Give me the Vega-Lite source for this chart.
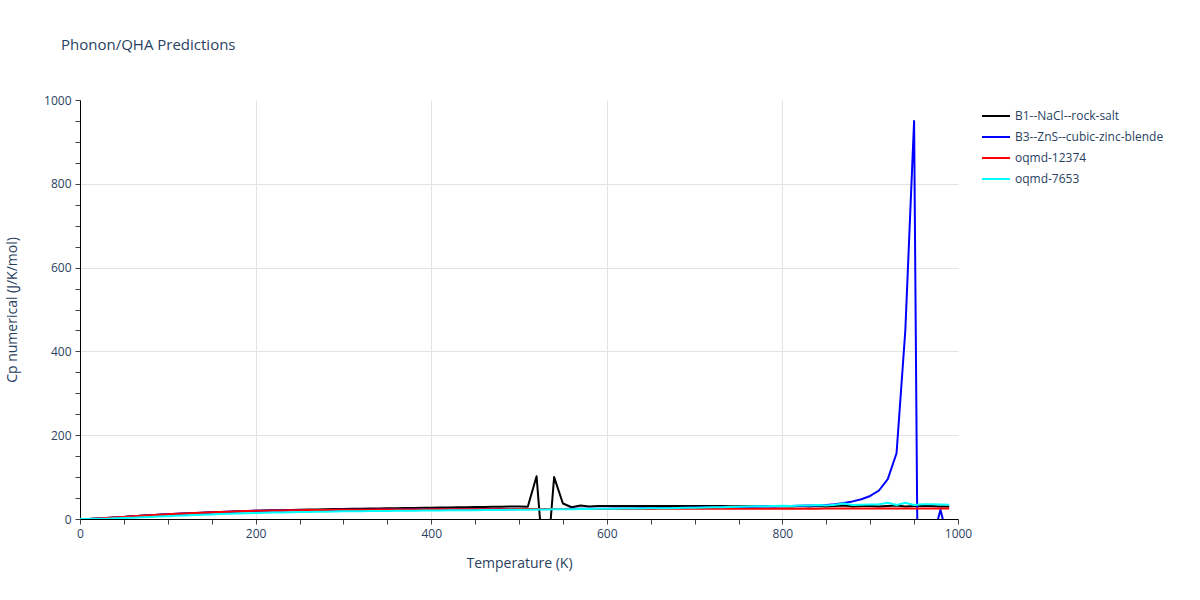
{
  "$schema": "https://vega.github.io/schema/vega-lite/v6.json",
  "width": 878,
  "height": 419,
  "autosize": "none",
  "padding": {"left": 80, "top": 100, "right": 242, "bottom": 81},
  "background": "white",
  "config": {"font": "Open Sans", "view": {"stroke": null}},
  "title": {"text": "Phonon/QHA Predictions", "anchor": "start", "frame": "group", "dx": -19, "offset": 41, "fontSize": 15, "fontWeight": "normal", "color": "#2a3f5f"},
  "data": {"values": [
    {"T":0,"K":0,"B":0,"R":0,"C":0},
    {"T":10,"K":0.2,"B":0.2,"R":0.2,"C":0.05},
    {"T":20,"K":1.0,"B":1.0,"R":1.0,"C":0.3},
    {"T":30,"K":2.2,"B":2.2,"R":2.2,"C":0.8},
    {"T":40,"K":3.5,"B":3.5,"R":3.5,"C":1.5},
    {"T":50,"K":4.9,"B":4.9,"R":4.9,"C":2.3},
    {"T":60,"K":6.3,"B":6.3,"R":6.3,"C":3.2},
    {"T":70,"K":7.6,"B":7.6,"R":7.6,"C":4.1},
    {"T":80,"K":8.9,"B":8.9,"R":8.9,"C":5.0},
    {"T":90,"K":10.0,"B":10.1,"R":10.1,"C":5.9},
    {"T":100,"K":11.1,"B":11.2,"R":11.2,"C":6.8},
    {"T":110,"K":12.1,"B":12.3,"R":12.3,"C":7.7},
    {"T":120,"K":13.1,"B":13.3,"R":13.3,"C":8.6},
    {"T":130,"K":14.0,"B":14.3,"R":14.3,"C":9.4},
    {"T":140,"K":14.9,"B":15.2,"R":15.2,"C":10.2},
    {"T":150,"K":15.7,"B":16.0,"R":16.0,"C":11.0},
    {"T":160,"K":16.5,"B":16.8,"R":16.8,"C":11.7},
    {"T":170,"K":17.3,"B":17.5,"R":17.5,"C":12.4},
    {"T":180,"K":18.0,"B":18.2,"R":18.2,"C":13.1},
    {"T":190,"K":18.7,"B":18.8,"R":18.8,"C":13.7},
    {"T":200,"K":19.4,"B":19.4,"R":19.4,"C":14.3},
    {"T":210,"K":20.0,"B":19.8,"R":19.8,"C":14.8},
    {"T":220,"K":20.6,"B":20.2,"R":20.2,"C":15.3},
    {"T":230,"K":21.1,"B":20.5,"R":20.5,"C":15.8},
    {"T":240,"K":21.6,"B":20.8,"R":20.8,"C":16.2},
    {"T":250,"K":22.1,"B":21.0,"R":21.0,"C":16.6},
    {"T":260,"K":22.5,"B":21.2,"R":21.2,"C":17.0},
    {"T":270,"K":22.9,"B":21.4,"R":21.4,"C":17.3},
    {"T":280,"K":23.3,"B":21.6,"R":21.6,"C":17.6},
    {"T":290,"K":23.7,"B":21.8,"R":21.8,"C":17.9},
    {"T":300,"K":24.1,"B":22.0,"R":22.0,"C":18.2},
    {"T":310,"K":24.4,"B":22.1,"R":22.1,"C":18.4},
    {"T":320,"K":24.7,"B":22.2,"R":22.2,"C":18.6},
    {"T":330,"K":25.0,"B":22.3,"R":22.3,"C":18.8},
    {"T":340,"K":25.3,"B":22.4,"R":22.4,"C":19.0},
    {"T":350,"K":25.6,"B":22.5,"R":22.5,"C":19.2},
    {"T":360,"K":25.9,"B":22.6,"R":22.6,"C":19.4},
    {"T":370,"K":26.2,"B":22.7,"R":22.7,"C":19.6},
    {"T":380,"K":26.5,"B":22.8,"R":22.8,"C":19.8},
    {"T":390,"K":26.8,"B":22.9,"R":22.9,"C":20.0},
    {"T":400,"K":27.1,"B":23.0,"R":23.0,"C":20.2},
    {"T":410,"K":27.4,"B":23.06,"R":23.06,"C":20.4},
    {"T":420,"K":27.7,"B":23.1,"R":23.1,"C":20.6},
    {"T":430,"K":28.0,"B":23.2,"R":23.2,"C":20.7},
    {"T":440,"K":28.3,"B":23.25,"R":23.25,"C":20.9},
    {"T":450,"K":28.6,"B":23.3,"R":23.3,"C":21.1},
    {"T":460,"K":28.9,"B":23.35,"R":23.35,"C":21.3},
    {"T":470,"K":29.2,"B":23.4,"R":23.4,"C":21.5},
    {"T":480,"K":29.5,"B":23.5,"R":23.5,"C":21.6},
    {"T":490,"K":29.8,"B":23.55,"R":23.55,"C":21.8},
    {"T":500,"K":30.1,"B":23.6,"R":23.6,"C":22.0},
    {"T":510,"K":29.0,"B":23.7,"R":23.65,"C":22.2},
    {"T":520,"K":102,"B":23.8,"R":23.7,"C":22.5},
    {"T":530,"K":-160,"B":23.9,"R":23.75,"C":22.7},
    {"T":540,"K":100,"B":24.0,"R":23.8,"C":23.0},
    {"T":550,"K":37,"B":24.1,"R":23.85,"C":23.2},
    {"T":560,"K":28,"B":24.2,"R":23.9,"C":23.5},
    {"T":570,"K":32,"B":24.3,"R":23.9,"C":23.7},
    {"T":580,"K":30,"B":24.4,"R":23.95,"C":24.0},
    {"T":590,"K":31,"B":24.5,"R":24.0,"C":24.2},
    {"T":600,"K":31,"B":24.6,"R":24.0,"C":24.5},
    {"T":610,"K":31,"B":24.8,"R":24.03,"C":24.6},
    {"T":620,"K":31.1,"B":25.0,"R":24.06,"C":24.8},
    {"T":630,"K":31.1,"B":25.3,"R":24.1,"C":25.0},
    {"T":640,"K":31.1,"B":25.5,"R":24.1,"C":25.2},
    {"T":650,"K":31.1,"B":25.8,"R":24.15,"C":25.4},
    {"T":660,"K":31.0,"B":26.0,"R":24.2,"C":25.6},
    {"T":670,"K":31.0,"B":26.3,"R":24.2,"C":25.9},
    {"T":680,"K":31.0,"B":26.5,"R":24.25,"C":26.3},
    {"T":690,"K":31.0,"B":26.8,"R":24.3,"C":26.6},
    {"T":700,"K":30.9,"B":27.0,"R":24.3,"C":27.0},
    {"T":710,"K":30.9,"B":27.3,"R":24.3,"C":27.4},
    {"T":720,"K":30.8,"B":27.6,"R":24.35,"C":27.8},
    {"T":730,"K":30.8,"B":27.9,"R":24.4,"C":28.2},
    {"T":740,"K":30.7,"B":28.2,"R":24.4,"C":28.7},
    {"T":750,"K":30.6,"B":28.5,"R":24.45,"C":29.2},
    {"T":760,"K":30.6,"B":28.9,"R":24.5,"C":29.7},
    {"T":770,"K":30.5,"B":29.3,"R":24.5,"C":30.2},
    {"T":780,"K":30.5,"B":29.7,"R":24.55,"C":30.7},
    {"T":790,"K":30.4,"B":30.1,"R":24.6,"C":31.1},
    {"T":800,"K":30.4,"B":30.5,"R":24.6,"C":31.5},
    {"T":810,"K":30,"B":31.0,"R":24.65,"C":31.0},
    {"T":820,"K":31,"B":31.5,"R":24.7,"C":32.5},
    {"T":830,"K":30,"B":32.0,"R":24.7,"C":32.0},
    {"T":840,"K":31,"B":32.5,"R":24.75,"C":33.5},
    {"T":850,"K":30,"B":33.5,"R":24.8,"C":32.5},
    {"T":860,"K":31,"B":35.0,"R":24.8,"C":34.0},
    {"T":870,"K":32,"B":38.5,"R":24.85,"C":37.0},
    {"T":880,"K":30,"B":42,"R":24.9,"C":33.5},
    {"T":890,"K":31,"B":47,"R":24.9,"C":34.0},
    {"T":900,"K":31,"B":55,"R":24.95,"C":34.5},
    {"T":910,"K":30,"B":68,"R":25.0,"C":35.0},
    {"T":920,"K":31,"B":95,"R":25.0,"C":39.0},
    {"T":930,"K":32,"B":157,"R":25.0,"C":33.5},
    {"T":940,"K":30,"B":450,"R":25.05,"C":39.0},
    {"T":950,"K":31,"B":950,"R":25.1,"C":33.5},
    {"T":960,"K":31,"B":-1700,"R":25.1,"C":35.0},
    {"T":970,"K":31,"B":-60,"R":25.1,"C":35.0},
    {"T":980,"K":30,"B":22,"R":25.1,"C":34.5},
    {"T":990,"K":30,"B":-60,"R":25.1,"C":34.0}
  ]},
  "transform": [
    {"fold": ["K", "B", "R", "C"], "as": ["key", "Cp"]},
    {"lookup": "key", "from": {"data": {"values": [
      {"key": "K", "series": "B1--NaCl--rock-salt"},
      {"key": "B", "series": "B3--ZnS--cubic-zinc-blende"},
      {"key": "R", "series": "oqmd-12374"},
      {"key": "C", "series": "oqmd-7653"}
    ]}, "key": "key", "fields": ["series"]}}
  ],
  "mark": {"type": "line", "clip": true, "strokeWidth": 2, "strokeJoin": "round"},
  "encoding": {
    "x": {"field": "T", "type": "quantitative",
      "scale": {"domain": [0, 1000], "nice": false, "zero": false},
      "axis": {
        "values": [0,50,100,150,200,250,300,350,400,450,500,550,600,650,700,750,800,850,900,950,1000],
        "format": "d",
        "labelExpr": "datum.value % 200 === 0 ? datum.label : ''",
        "labelFlush": false, "labelOverlap": false,
        "title": "Temperature (K)", "titleFontSize": 14, "titleFontWeight": "normal", "titleColor": "#2a3f5f",
        "titleX": 439, "titleY": 44, "titleBaseline": "middle", "titleAnchor": null,
        "labelFontSize": 12, "labelColor": "#2a3f5f", "labelPadding": 4,
        "domainColor": "#000000", "domainWidth": 1,
        "tickColor": "#444444", "tickSize": 5, "tickWidth": 1,
        "grid": true, "gridColor": "#e3e3e3", "gridWidth": 1,
        "gridOpacity": {"condition": {"test": "datum.value % 200 !== 0 || datum.value === 0 || datum.value === 1000", "value": 0}, "value": 1}
      }
    },
    "y": {"field": "Cp", "type": "quantitative",
      "scale": {"domain": [0, 1000], "nice": false, "zero": false},
      "axis": {
        "values": [0,50,100,150,200,250,300,350,400,450,500,550,600,650,700,750,800,850,900,950,1000],
        "format": "d",
        "labelExpr": "datum.value % 200 === 0 ? datum.label : ''",
        "labelFlush": false, "labelOverlap": false,
        "title": "Cp numerical (J/K/mol)", "titleFontSize": 14, "titleFontWeight": "normal", "titleColor": "#2a3f5f",
        "titleX": -68, "titleY": 209.5, "titleAngle": -90, "titleBaseline": "middle", "titleAlign": "center",
        "labelFontSize": 12, "labelColor": "#2a3f5f", "labelPadding": 4,
        "domainColor": "#000000", "domainWidth": 1,
        "tickColor": "#444444", "tickSize": 5, "tickWidth": 1,
        "grid": true, "gridColor": "#e3e3e3", "gridWidth": 1,
        "gridOpacity": {"condition": {"test": "datum.value % 200 !== 0 || datum.value === 0 || datum.value === 1000", "value": 0}, "value": 1}
      }
    },
    "color": {"field": "series", "type": "nominal",
      "scale": {"domain": ["B1--NaCl--rock-salt", "B3--ZnS--cubic-zinc-blende", "oqmd-12374", "oqmd-7653"],
                "range": ["#000000", "#0000ff", "#ff0000", "#00ffff"]},
      "legend": {"title": null, "orient": "none", "legendX": 901, "legendY": 1,
        "symbolType": "stroke", "symbolSize": 784, "symbolStrokeWidth": 2,
        "labelFontSize": 12, "labelColor": "#2a3f5f", "labelOffset": 4, "rowPadding": -12, "padding": 0}
    }
  }
}
